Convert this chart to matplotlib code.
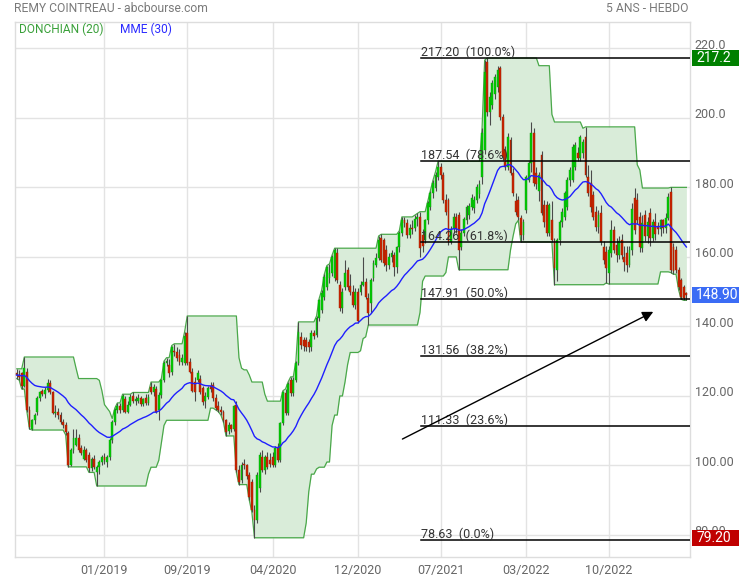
import numpy as np
import pandas as pd
import matplotlib
matplotlib.use("Agg")
import matplotlib.pyplot as plt
import matplotlib.transforms as mtransforms
from matplotlib.patches import Rectangle

plt.rcParams['font.family'] = ['Roboto', 'DejaVu Sans']

# ---------------- data (weekly candles) ----------------
opens = [126.5,126.0,126.6,123.0,127.0,116.0,110.5,113.0,115.4,119.4,121.5,120.5,121.7,123.7,121.0,115.2,115.5,114.5,112.5,111.6,
         109.4,100.2,104.5,106.0,108.0,105.0,102.0,104.5,103.0,99.3,102.0,98.0,99.6,101.0,102.5,101.0,102.4,107.3,112.5,116.0,
         117.0,116.0,119.0,115.5,117.5,120.0,118.5,118.5,119.5,117.8,119.5,118.0,122.6,121.0,122.0,116.0,120.3,124.6,129.5,129.0,
         127.0,133.0,132.7,131.8,129.8,129.5,138.0,129.8,127.0,124.0,124.6,125.0,122.3,118.5,119.7,123.0,123.2,119.4,117.0,116.0,
         115.4,113.0,110.0,111.5,110.5,117.4,98.7,95.8,100.5,100.0,97.3,95.3,87.2,84.3,93.5,102.4,98.7,102.4,101.5,102.4,
         100.0,105.3,101.6,112.2,120.9,115.1,124.6,120.9,124.6,129.5,137.0,136.0,136.0,135.5,134.0,138.0,137.5,142.4,144.7,148.5,
         151.4,154.0,155.4,154.0,161.0,152.0,145.3,151.4,156.3,151.5,150.0,146.2,150.0,150.0,152.0,152.8,148.2,146.8,154.0,157.7,
         159.7,165.5,164.9,162.0,157.7,160.0,160.6,157.0,162.9,167.0,170.6,169.8,166.3,168.3,168.3,171.0,171.5,166.3,165.0,170.6,
         174.4,178.4,179.9,183.0,185.9,183.6,176.4,176.4,164.3,168.0,171.5,172.1,162.9,167.0,170.6,172.0,174.4,174.0,176.4,178.0,
         183.0,190.8,216.0,201.7,203.7,207.0,208.9,214.4,200.3,190.8,185.9,193.7,184.2,176.0,176.4,171.2,166.3,173.5,182.2,187.0,
         195.7,184.0,179.0,189.4,175.0,175.0,167.0,170.6,164.5,156.3,164.9,170.0,171.5,174.4,182.0,182.2,185.9,190.0,188.5,190.0,
         194.5,183.0,181.3,177.8,173.0,168.6,172.7,162.9,161.4,155.4,161.2,167.8,163.5,160.5,164.9,160.0,161.2,157.7,162.0,177.0,
         176.4,171.5,162.6,172.0,166.0,172.7,165.5,170.0,169.0,168.0,170.5,168.3,171.2,178.7,162.9,162.0,156.3,153.4,151.4,149.5]
highs = [127.8,127.5,127.0,131.2,128.0,117.0,113.5,115.0,120.0,121.5,122.0,122.5,125.0,124.5,121.5,117.5,116.5,115.5,113.5,112.5,
         110.0,105.0,110.5,110.5,109.0,106.0,105.5,105.0,104.0,102.5,103.0,100.0,101.5,103.0,103.5,103.0,108.0,113.0,116.5,118.0,
         118.0,120.5,120.0,118.5,120.5,121.0,120.0,120.5,120.0,119.5,120.5,120.5,124.0,123.5,123.0,121.0,125.0,130.0,131.0,130.5,
         134.5,135.0,134.0,133.5,132.0,138.5,143.0,131.0,128.0,125.5,127.5,126.0,123.0,121.0,123.0,124.0,124.0,120.5,118.5,117.0,
         116.0,113.5,112.5,112.0,117.5,118.5,100.0,101.0,102.0,100.5,98.0,96.0,88.5,98.0,104.0,104.5,103.0,104.0,103.5,104.0,
         105.5,106.5,112.5,121.5,122.0,124.0,125.5,125.5,130.0,141.3,138.5,137.0,137.0,136.5,139.0,139.0,143.0,148.0,150.5,155.0,
         157.5,158.0,160.5,162.5,162.5,153.0,151.0,159.0,157.0,155.0,152.0,151.0,151.0,153.0,160.0,154.0,149.5,154.0,159.0,161.0,
         166.0,166.5,165.5,163.5,161.0,162.0,161.5,163.0,167.5,171.5,171.5,171.0,169.5,170.5,172.0,172.5,173.0,168.0,171.0,176.0,
         179.0,182.0,184.5,187.5,187.0,184.5,178.0,177.0,169.0,172.5,172.5,173.0,168.0,171.5,175.0,175.5,178.0,177.5,181.0,182.0,
         197.0,216.6,217.2,207.5,211.0,212.5,215.0,215.0,201.0,192.0,195.5,194.5,185.5,178.5,177.5,172.0,171.0,183.5,187.5,198.8,
         197.0,186.0,184.5,190.5,176.5,176.0,175.5,176.0,165.5,165.5,170.5,174.0,179.0,183.0,186.0,192.5,193.0,191.5,195.0,194.0,
         197.4,186.5,185.0,179.0,174.5,173.5,175.0,164.5,163.0,163.0,170.5,169.0,165.5,166.0,166.5,163.0,163.0,163.0,175.5,179.8,
         178.5,173.0,172.0,173.5,171.5,174.0,171.0,172.5,170.0,171.0,171.0,172.5,178.5,180.0,164.0,163.0,157.0,154.0,152.0,150.0]
lows = [125.0,124.6,122.0,122.5,115.5,110.5,110.2,112.0,114.5,118.5,120.0,119.5,121.0,120.5,114.8,114.0,113.5,112.0,110.8,108.8,
        99.6,99.8,103.5,105.5,104.0,103.0,101.5,101.0,98.0,98.5,99.0,94.1,97.5,100.0,100.5,99.5,101.5,106.5,111.5,115.0,
        115.0,115.5,115.0,115.0,117.0,118.0,117.5,118.0,117.0,117.0,117.5,117.5,120.5,120.0,115.0,113.0,119.5,124.0,128.5,125.5,
        126.0,131.5,130.0,129.0,129.0,129.0,129.0,126.5,121.0,118.5,124.0,120.5,117.5,116.5,119.0,121.0,118.5,116.0,115.5,114.5,
        112.5,108.5,109.0,109.5,110.0,98.0,94.5,95.0,99.0,96.0,90.0,86.5,79.2,83.5,92.5,98.0,97.5,99.0,99.5,99.5,
        99.5,101.0,101.0,111.5,114.5,114.5,120.0,120.0,124.0,129.0,133.5,133.0,133.0,132.5,133.0,136.5,137.0,141.5,144.0,147.5,
        150.5,152.5,154.5,153.0,152.5,144.5,144.0,150.5,150.5,149.0,145.5,145.0,141.0,149.0,151.5,148.0,140.4,144.0,153.0,157.0,
        159.0,158.5,157.5,156.0,156.5,158.5,154.5,155.5,161.5,166.0,168.5,165.5,165.5,166.5,167.5,169.0,160.0,161.5,164.0,169.5,
        173.5,177.0,179.0,182.0,182.5,175.5,172.0,163.5,163.8,167.0,167.0,156.3,162.0,166.0,169.5,171.0,173.5,172.5,175.5,177.0,
        181.0,189.5,200.5,198.0,202.5,205.5,207.5,199.5,188.0,185.0,185.0,183.5,177.5,172.0,170.5,164.3,164.8,172.5,181.5,184.5,
        180.5,179.5,176.0,172.0,168.5,166.0,166.0,164.3,152.0,153.0,163.5,168.5,170.5,173.5,180.5,181.5,185.0,187.5,187.5,188.5,
        183.0,177.5,173.0,170.5,167.5,167.0,163.5,158.0,152.5,152.2,160.0,161.0,158.5,159.5,159.5,156.0,155.7,157.0,160.5,166.5,
        169.5,161.5,161.5,164.5,164.0,163.0,164.5,165.0,166.5,166.0,167.0,167.0,170.5,155.5,155.0,155.5,150.5,147.8,147.5,147.6]
closes = [126.0,125.5,123.0,128.0,116.0,111.0,113.0,114.5,119.4,121.0,120.5,121.7,123.7,121.0,115.2,115.5,114.5,112.5,111.5,109.6,
          100.2,104.5,108.0,108.0,104.5,103.5,104.5,101.6,99.3,102.0,99.5,99.6,101.0,102.5,101.5,102.4,107.3,112.5,116.0,117.0,
          116.0,120.0,115.5,117.5,119.7,118.5,119.0,119.5,117.8,119.0,118.0,119.8,121.0,122.5,115.5,120.3,124.6,129.5,130.0,126.6,
          134.0,132.7,131.0,129.8,131.0,137.3,129.6,127.0,121.5,121.0,126.6,121.2,118.3,120.0,122.3,122.0,119.4,116.5,116.0,115.4,
          113.0,109.6,111.5,110.5,117.0,98.7,95.3,100.0,100.0,97.0,91.0,87.2,84.3,97.3,103.0,98.7,102.4,99.7,100.3,100.0,
          105.0,101.6,112.2,121.0,115.1,123.5,120.9,124.6,129.5,138.4,134.7,134.5,134.0,134.0,138.0,137.3,142.4,147.6,149.6,154.2,
          157.0,155.4,160.0,162.0,153.4,145.3,150.0,155.4,151.4,150.0,146.2,150.0,141.5,152.0,152.8,148.5,143.9,153.4,158.3,159.7,
          165.0,159.1,158.3,157.7,160.0,161.0,157.0,162.9,167.0,170.6,169.8,166.3,168.3,168.0,171.0,171.5,162.6,163.0,170.6,175.5,
          178.4,181.3,183.6,185.9,183.6,176.4,173.0,164.3,168.0,171.5,168.0,162.0,167.0,171.0,174.4,174.5,177.0,176.5,180.1,181.0,
          195.7,213.2,201.7,206.0,210.0,211.8,213.8,200.3,188.8,185.9,194.5,184.2,178.4,173.0,171.5,166.3,170.0,183.0,187.0,195.5,
          181.3,181.0,183.5,172.7,170.0,166.9,175.0,164.8,156.8,164.9,170.0,173.0,178.4,182.2,185.0,191.7,192.2,188.5,194.5,193.0,
          183.5,178.4,174.4,171.5,168.6,172.0,164.3,159.1,156.8,162.0,167.8,162.0,160.5,164.5,160.6,158.6,157.7,162.0,173.8,167.8,
          170.6,162.9,169.8,166.0,170.0,165.5,170.0,166.5,168.0,170.5,168.3,171.2,177.3,156.3,155.8,156.3,151.4,148.5,148.2,148.9]

start_date = "2018-06-01"
tick_labels = ["01/2019", "09/2019", "04/2020", "12/2020", "07/2021", "03/2022", "10/2022"]
ytick_values = [80, 100, 120, 140, 160, 180, 200, 220]
ytick_labels = ["80.00", "100.00", "120.00", "140.00", "160.00", "180.00", "200.0", "220.0"]

fib_values = [217.20, 187.54, 164.26, 147.91, 131.56, 111.33, 78.63]
fib_pcts = ["100.0%", "78.6%", "61.8%", "50.0%", "38.2%", "23.6%", "0.0%"]
fib_start_week = 157

arrow_start = (149.2, 107.6)   # (week index, price)
arrow_end = (246.2, 144.2)

marker_values = [217.2, 148.90, 79.20]
marker_texts = ["217.2", "148.90", "79.20"]
marker_colors = ["#008000", "#3b6cf5", "#c00000"]

# ---------------- derived ----------------
df = pd.DataFrame({"open": opens, "high": highs, "low": lows, "close": closes})
df.index = pd.date_range(start_date, periods=len(df), freq="W-FRI")
n = len(df)
x = np.arange(n)
don_up = df["high"].rolling(20, min_periods=1).max().values
don_lo = df["low"].rolling(20, min_periods=1).min().values
mme = df["close"].ewm(span=30, adjust=False).mean().values

tick_idx = [34, 66, 99, 132, 164, 197, 229]

# ---------------- figure ----------------
W, H = 739, 580
fig = plt.figure(figsize=(W / 100, H / 100), dpi=100)
ax = fig.add_axes([15 / W, 23 / H, 675 / W, 535 / H])
ax.set_xlim(-0.6, n + 0.4)
ax.set_ylim(73.67, 227.57)

for s in ax.spines.values():
    s.set_color("#dddddd")
    s.set_linewidth(1)

ax.set_yticks(ytick_values)
ax.set_yticklabels([])
ax.tick_params(axis="y", length=0)
ax.set_xticks(tick_idx)
ax.set_xticklabels(tick_labels, color="#666666", fontsize=9)
ax.tick_params(axis="x", length=0, pad=5)
ax.grid(True, color="#e3e3e3", linewidth=1)
ax.set_axisbelow(True)

# Donchian channel
ax.fill_between(x, don_lo, don_up, color="#d9ecd9", zorder=1, linewidth=0)
ax.plot(x, don_up, color="#4aa84a", lw=0.9, zorder=2)
ax.plot(x, don_lo, color="#4aa84a", lw=0.9, zorder=2)

# candles
o = df["open"].values; c = df["close"].values
up = c >= o
ax.vlines(x, df["low"].values, df["high"].values, color="#4a4a4a", lw=0.8, zorder=3)
bottoms = np.minimum(o, c)
heights = np.maximum(np.abs(c - o), 0.25)
ax.bar(x[up], heights[up], bottom=bottoms[up], width=0.72, color="#00cc00",
       edgecolor="#119911", linewidth=0.3, zorder=4)
ax.bar(x[~up], heights[~up], bottom=bottoms[~up], width=0.72, color="#cc2200",
       edgecolor="#992200", linewidth=0.3, zorder=4)

# MME
ax.plot(x, mme, color="#1f1fff", lw=1.0, zorder=5)

# Fibonacci levels
txt_off = mtransforms.offset_copy(ax.transData, fig=fig, x=0, y=2.0, units="dots")
for v, p in zip(fib_values, fib_pcts):
    ax.plot([fib_start_week - 0.5, n + 0.4], [v, v], color="black", lw=1.1, zorder=6)
    ax.text(fib_start_week - 0.5, v, f"{v:.2f}  ({p})", transform=txt_off,
            ha="left", va="baseline", fontsize=9, color="#333333", zorder=7)

# arrow
ax.annotate("", xy=arrow_end, xytext=arrow_start,
            arrowprops=dict(arrowstyle="-|>", color="black", lw=1.0,
                            mutation_scale=16, shrinkA=0, shrinkB=0), zorder=7)

# right-hand price labels
blend = mtransforms.blended_transform_factory(ax.transAxes, ax.transData)
lab_off = mtransforms.offset_copy(blend, fig=fig, x=0, y=3.0, units="dots")
for v, t in zip(ytick_values, ytick_labels):
    ax.text(1.007, v, t, transform=lab_off, ha="left", va="center",
            fontsize=9, color="#666666", clip_on=False)

for v, t, col in zip(marker_values, marker_texts, marker_colors):
    ax.add_patch(Rectangle((1.003, v - 2.3), 0.075, 4.6, transform=blend,
                           facecolor=col, edgecolor="none", clip_on=False, zorder=10))
    ax.text(1.009, v, t, transform=blend, ha="left", va="center",
            fontsize=10, color="white", clip_on=False, zorder=11)

# titles / legend
fig.text(14 / W, 1 - 9 / H, "REMY COINTREAU - abcbourse.com", ha="left", va="center",
         fontsize=8.7, color="#7a7a7a")
fig.text(688 / W, 1 - 9 / H, "5 ANS - HEBDO", ha="right", va="center",
         fontsize=8.7, color="#7a7a7a")
fig.text(19 / W, 1 - 29 / H, "DONCHIAN (20)", ha="left", va="center",
         fontsize=8.6, color="#3aa03a")
fig.text(120 / W, 1 - 29 / H, "MME (30)", ha="left", va="center",
         fontsize=8.6, color="#2b2bff")

fig.savefig("out.png", dpi=100)
